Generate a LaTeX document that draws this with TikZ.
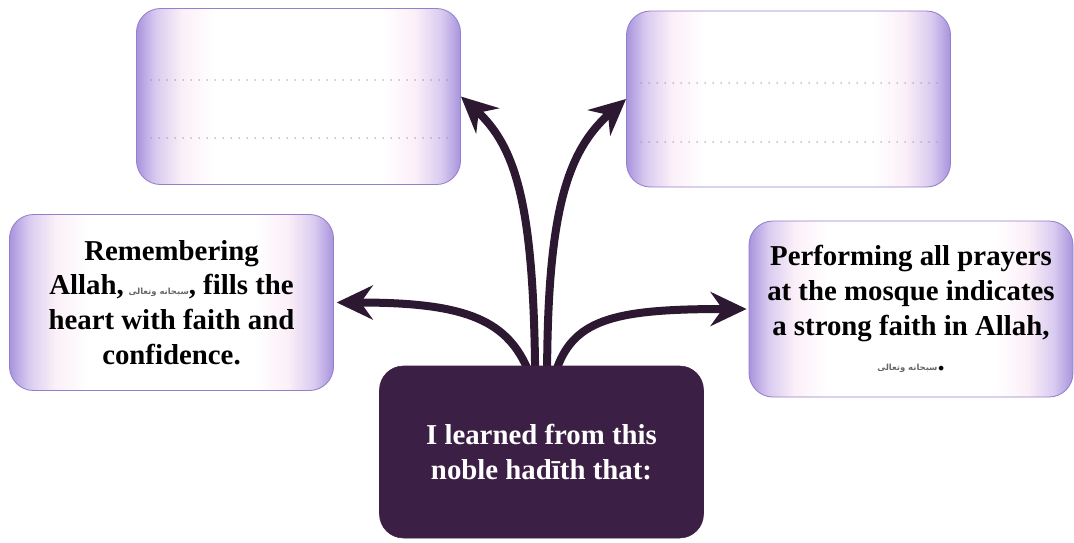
\documentclass[tikz,border=0pt]{standalone}
\usepackage{fontspec}
\setmainfont{Liberation Serif}
\newfontfamily\arabicfont[Script=Arabic]{DejaVu Sans}
\TeXXeTstate=1
\usepackage{tikz}
\usetikzlibrary{arrows.meta, calc}
\definecolor{lilacedge}{HTML}{A893DC}
\definecolor{lilacmid}{HTML}{D9CBF0}
\definecolor{lilacpink}{HTML}{FBEFF8}
\definecolor{lilacline}{HTML}{957FCC}
\definecolor{hadithfill}{HTML}{3C1F44}
\definecolor{arrowink}{HTML}{2D1832}
\definecolor{swtgray}{HTML}{666666}
\pgfdeclarehorizontalshading{lilac}{100bp}{color(0bp)=(lilacedge); color(25bp)=(lilacedge);
  color(28bp)=(lilacmid); color(32bp)=(lilacpink); color(37bp)=(white); color(63bp)=(white);
  color(68bp)=(lilacpink); color(72bp)=(lilacmid); color(75bp)=(lilacedge); color(100bp)=(lilacedge)}
\newcommand{\swtsign}{{\arabicfont\fontsize{6}{6}\selectfont\color{swtgray}\beginR سبحانه وتعالى\endR}}
\tikzset{
  % --- boxes ---
  cardbase/.style={rounded corners=6mm, minimum width=81mm, minimum height=44mm,
    inner sep=0pt, align=center, font=\bfseries\fontsize{20.5}{24.8}\selectfont},
  lessonbox/.style={cardbase, draw=lilacline, line width=0.6pt, shading=lilac},
  hadithbox/.style={cardbase, fill=hadithfill, draw=hadithfill, text=white,
    font=\bfseries\fontsize{20.5}{25.5}\selectfont},
  % --- writing lines and arrows ---
  writeline/.style={black!45, line width=1pt, line cap=round, dash pattern=on 0pt off 2mm},
  branch/.style={-{Stealth[length=9mm, width=8.5mm, inset=3mm]}, line width=2mm, arrowink},
}

\begin{document}
\begin{tikzpicture}[x=0.25mm, y=-0.25mm]
    \useasboundingbox (0,0) rectangle (1074,542);
    % boxes
    \node[lessonbox] (tl) at (298.5,96.5) {};
    \node[lessonbox] (tr) at (788.5,99)   {};
    \node[lessonbox] (lm) at (171.5,302.5)
      {Remembering\\Allah,\,\swtsign, fills the\\heart with faith and\\confidence.};
    \node[lessonbox] (rm) at (911,309)
      {Performing all prayers\\at the mosque indicates\\a strong faith in Allah,\\\swtsign.};
    % writing lines
    \foreach \b/\u/\v in {tl/-16.5/41.5, tr/-16/43}{
      \draw[writeline] ($(\b.west)+(15,\u)$) -- ($(\b.east)+(-12,\u)$);
      \draw[writeline] ($(\b.west)+(15,\v)$) -- ($(\b.east)+(-12,\v)$); }
    % arrows out of the hadith box
    \coordinate (hn) at (541.5,368);
    \draw[branch] ([xshift=-3.6mm]hn) .. controls +(-22,-50) and +(124,0)  .. ([xshift=0.7mm]lm.east);
    \draw[branch] ([xshift=-1.6mm]hn) .. controls +(-2,-156) and +(57,52)  .. (tl.east);
    \draw[branch] ([xshift=1.4mm]hn)  .. controls +(1,-156)  and +(-59,52) .. (tr.west);
    \draw[branch] ([xshift=3.9mm]hn)  .. controls +(18,-50)  and +(-128,0) .. ([xshift=-0.5mm]rm.west);
    % centre
    \node[hadithbox, minimum height=43mm] (hadith) at (541.5,452)
      {I learned from this\\noble hadīth that:};
  \end{tikzpicture}
\end{document}
